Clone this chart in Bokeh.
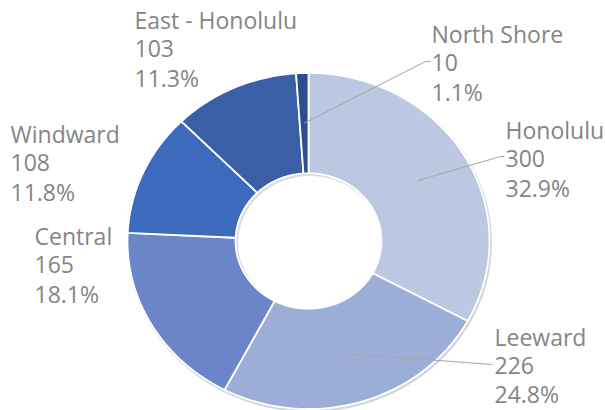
import numpy as np
from bokeh.plotting import figure
from bokeh.models import Range1d, ColumnDataSource
from bokeh.embed import file_html
from bokeh.resources import INLINE
from bokeh.core.properties import value

# ---- data ----
regions = ["Honolulu", "Leeward", "Central", "Windward", "East - Honolulu", "North Shore"]
counts = [300, 226, 165, 108, 103, 10]
colors = ["#BCC7E2", "#9CADD8", "#6A86C8", "#3C6ABC", "#3A5FA6", "#2C4E8C"]

# ---- layout (pixels, y downwards) ----
W, H = 605, 410
CX, CY, RX, RY, HOLE = 308, 240.5, 181, 168, 0.403
label_x = [505, 494, 34, 10, 134, 431]
label_y = [129, 336, 235, 133, 19, 33]       # first line position
line_gap = [29, 28.5, 29, 29, 29, 29]
leader_knee = [(500, 156), (492, 364), None, None, None, (425, 61)]
leader_end = [(504, 156), (492, 364), None, None, None, (430, 61)]
FONT = "Open Sans"
TEXT_COLOR = "#858585"

total = float(sum(counts))
fracs = np.array(counts) / total
ends = np.cumsum(fracs) * 2 * np.pi
starts = ends - fracs * 2 * np.pi


def pt(theta, r):
    return CX + RX * r * np.sin(theta), CY - RY * r * np.cos(theta)


xs, ys = [], []
for a0, a1 in zip(starts, ends):
    n = max(4, int((a1 - a0) / (2 * np.pi) * 360))
    t = np.linspace(a0, a1, n)
    ox, oy = pt(t, 1.0)
    ix, iy = pt(t[::-1], HOLE)
    xs.append(list(np.concatenate([ox, ix])))
    ys.append(list(np.concatenate([oy, iy])))

p = figure(width=W, height=H, output_backend="svg", toolbar_location=None,
           x_range=Range1d(0, W), y_range=Range1d(H, 0), min_border=0)
p.axis.visible = False
p.grid.visible = False
p.outline_line_color = None
p.background_fill_color = "white"

# soft shadows
tt = np.linspace(0, 2 * np.pi, 400)
sx, sy = pt(tt, 1.0)
p.line(sx + 1.2, sy + 1.8, line_color="#BBBBBB", line_width=2.5, line_alpha=0.6)
hx, hy = pt(tt, HOLE)
p.line(hx + 1.5, hy + 1.5, line_color="#BBBBBB", line_width=2.5, line_alpha=0.5)

src = ColumnDataSource(dict(xs=xs, ys=ys, color=colors, region=regions))
p.patches("xs", "ys", source=src, fill_color="color", line_color="white", line_width=1.8)

# leader lines
mid = (starts + ends) / 2
for i in range(len(regions)):
    if leader_end[i] is None:
        continue
    x0, y0 = pt(mid[i], (1 + HOLE) / 2)
    kx, ky = leader_knee[i]
    ex, ey = leader_end[i]
    p.line([x0, kx, ex], [y0, ky, ey], line_color="#A6A6A6", line_width=1)

# labels
tx, ty, tt_ = [], [], []
for i, name in enumerate(regions):
    pct = f"{100 * counts[i] / total:.1f}%"
    for k, s in enumerate([name, str(counts[i]), pct]):
        tx.append(label_x[i])
        ty.append(label_y[i] + k * line_gap[i])
        tt_.append(s)
p.text(tx, ty, text=tt_, text_font=value(FONT), text_font_size="23px",
       text_color=TEXT_COLOR, text_baseline="middle", text_align="left")

open("out.html", "w").write(file_html(p, INLINE))
